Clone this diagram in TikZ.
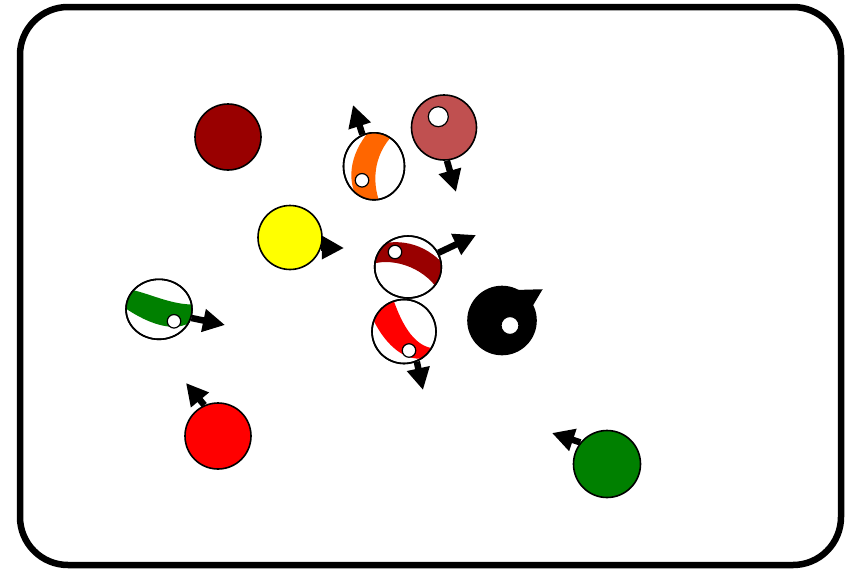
\documentclass[tikz,border=0pt]{standalone}
\usepackage{tikz}
\usetikzlibrary{arrows.meta,shapes.geometric}
\definecolor{cDark}  {HTML}{990000}
\definecolor{cRose}  {HTML}{C05050}
\definecolor{cYell}  {HTML}{FFFF00}
\definecolor{cOrange}{HTML}{FF6600}
\definecolor{cGreen} {HTML}{008000}
\definecolor{cRed}   {HTML}{FF0000}
\tikzset{
  table/.style={draw=black,line width=6.5pt,rounded corners=48pt},
  ball/.style={circle,draw=black,line width=1.6pt,inner sep=0pt,minimum size=66pt},
  sball/.style={ellipse,draw=black,line width=1.6pt,fill=white,inner sep=0pt},
  rim/.style={draw=black,line width=1.6pt},
  spot/.style={circle,draw=black,fill=white,line width=1.2pt,inner sep=0pt,minimum size=13.5pt},
  vel/.style={line width=6.5pt,-{Triangle[length=22pt,width=22pt]}},
}
\begin{document}
\begin{tikzpicture}[x=1pt,y=-1pt]
    \useasboundingbox (0,0) rectangle (852,571);
    \draw[table] (20,7) rectangle (841,565);
    % solid balls
    \node[ball,fill=cDark] (b1) at (228,137) {};
    \node[ball,fill=cRose,minimum size=65pt] (b3) at (444,127.5) {};
    \node[spot,minimum size=20pt] (d3) at (438.3,116.7) {};
    \node[ball,fill=cYell,minimum size=64pt] (b4) at (290,237.5) {};
    \node[ball,fill=black,minimum size=68pt] (b8) at (502,320.5) {};
    \node[spot,minimum size=18pt] (d8) at (510,325.5) {};
    \node[ball,fill=cRed] (b9) at (218,436) {};
    \node[ball,fill=cGreen,minimum size=67pt] (b10) at (607,464) {};
    % striped balls
    \begin{scope}[shift={(374,166.3)}]
      \node[sball,minimum width=61pt,minimum height=67pt] (b2) at (0,0) {};
      \begin{scope}
        \clip (0,0) ellipse [x radius=30.5pt,y radius=33.5pt];
        \fill[cOrange] (-4,-36) .. controls (-26,-11) and (-28,19) .. (-13,37)
          -- (6,37) .. controls (-3,14) and (0,-16) .. (24,-36) -- cycle;
      \end{scope}
      \draw[rim] (0,0) ellipse [x radius=30.5pt,y radius=33.5pt];
      \node[spot] (d2) at (-12,14) {};
    \end{scope}
    \begin{scope}[shift={(408,267)}]
      \node[sball,minimum width=66.6pt,minimum height=62pt] (b5) at (0,0) {};
      \begin{scope}
        \clip (0,0) ellipse [x radius=33.3pt,y radius=31pt];
        \fill[cDark] (-36,-20) .. controls (-13,-30) and (17,-25) .. (37,-1)
          -- (33,28) .. controls (20,2) and (-13,-10) .. (-36,-3) -- cycle;
      \end{scope}
      \draw[rim] (0,0) ellipse [x radius=33.3pt,y radius=31pt];
      \node[spot] (d5) at (-13,-15) {};
    \end{scope}
    \begin{scope}[shift={(159,309.3)}]
      \node[sball,minimum width=66pt,minimum height=60pt] (b6) at (0,0) {};
      \begin{scope}
        \clip (0,0) ellipse [x radius=33pt,y radius=30pt];
        \fill[cGreen] (-35,-20) .. controls (-19,-21) and (11,-3) .. (37,-5)
          -- (37,8) .. controls (21,26) and (-9,16) .. (-35,-2) -- cycle;
      \end{scope}
      \draw[rim] (0,0) ellipse [x radius=33pt,y radius=30pt];
      \node[spot] (d6) at (15,12) {};
    \end{scope}
    \begin{scope}[shift={(404,331.5)}]
      \node[sball,minimum width=64pt,minimum height=64pt] (b7) at (0,0) {};
      \begin{scope}
        \clip (0,0) circle [radius=32pt];
        \fill[cRed] (-12,-36) .. controls (-2,-5) and (12,18) .. (34,17)
          -- (34,19) .. controls (15,38) and (-18,24) .. (-36,-24) -- cycle;
      \end{scope}
      \draw[rim] (0,0) circle [radius=32pt];
      \node[spot] (d7) at (5,19) {};
    \end{scope}
    % velocities
    \coordinate (v2) at (353,105);
    \coordinate (v3) at (456,192);
    \coordinate (v4) at (344,248);
    \coordinate (v5) at (476,235);
    \coordinate (v6) at (225,325);
    \coordinate (v7) at (423,390);
    \coordinate (v8) at (543,289);
    \coordinate (v9) at (186,383);
    \coordinate (v10) at (552,433);
    \draw[vel] (b2.110) -- (v2);
    \draw[vel] (b3.-85) -- (v3);
    \draw[vel] (b4.-18) -- (v4);
    \draw[vel] (b5.25) -- (v5);
    \draw[vel] (b6.-15) -- (v6);
    \draw[vel] (b7.-67) -- (v7);
    \draw[vel] (b8.41) -- (v8);
    \draw[vel] (b9.114) -- (v9);
    \draw[vel] (b10.141) -- (v10);
\end{tikzpicture}
\end{document}
